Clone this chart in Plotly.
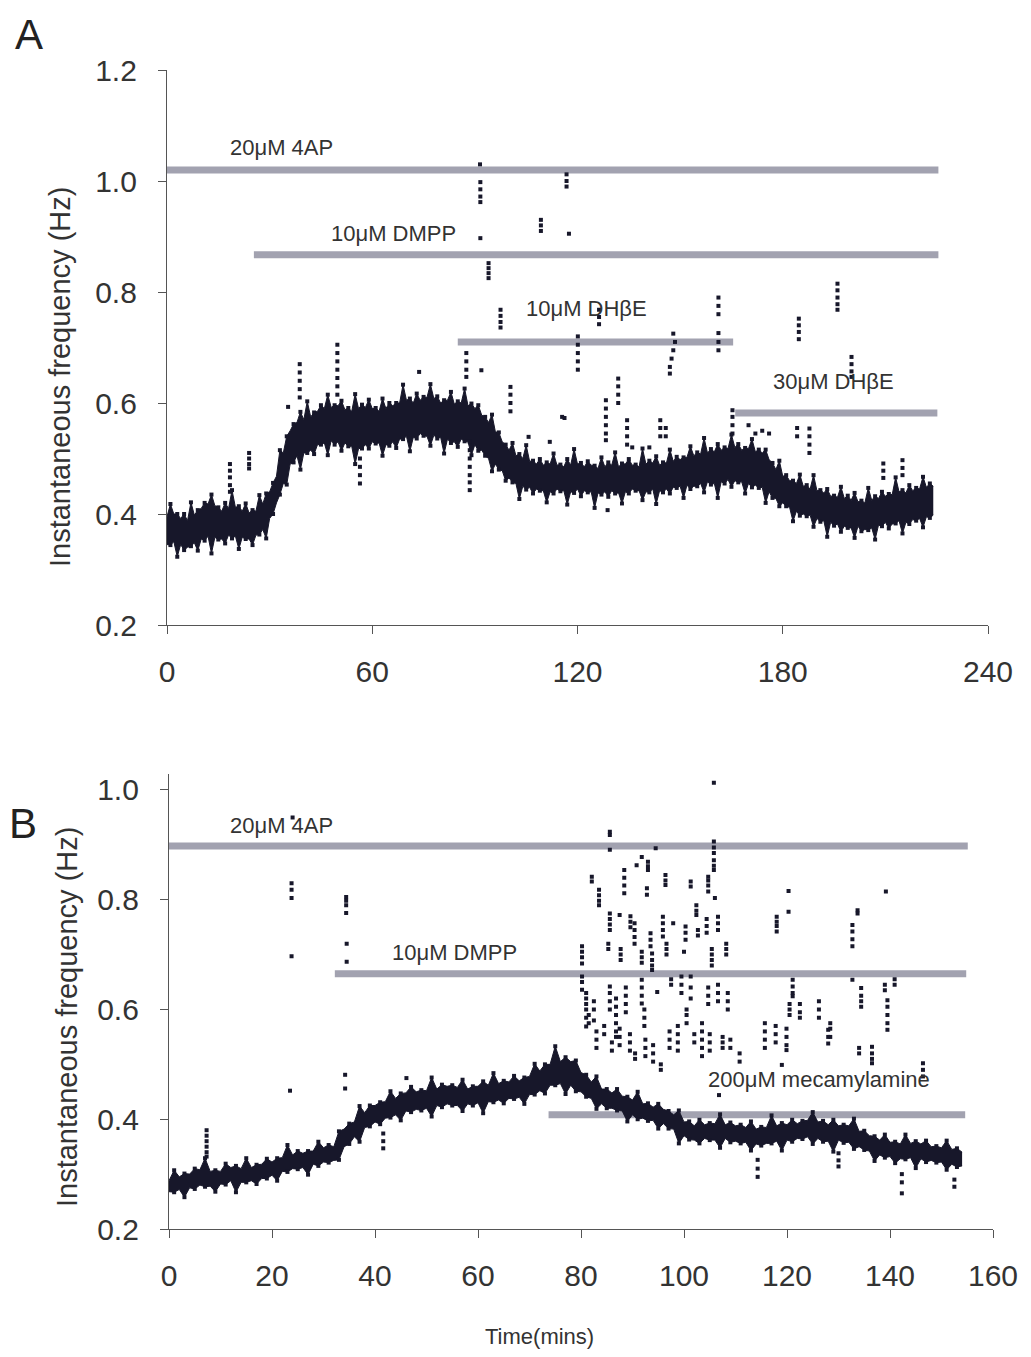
import plotly.graph_objects as go

# ---------------- DATA ----------------
# Panel A : dense band, sampled every 2 min (core lower / upper edge)
A_t_core = list(range(0, 225, 2))
A_lo = [0.345,0.350,0.345,0.340,0.348,0.355,0.360,0.358,0.355,0.362,
        0.360,0.358,0.355,0.362,0.372,0.392,0.420,0.455,0.490,0.505,
        0.510,0.515,0.525,0.528,0.532,0.530,0.528,0.522,0.518,0.525,
        0.530,0.528,0.525,0.530,0.535,0.540,0.538,0.545,0.540,0.542,
        0.538,0.535,0.530,0.535,0.530,0.525,0.515,0.500,0.490,0.478,
        0.465,0.455,0.450,0.448,0.445,0.442,0.440,0.445,0.442,0.440,
        0.445,0.442,0.440,0.438,0.440,0.442,0.438,0.440,0.445,0.442,
        0.440,0.445,0.442,0.445,0.448,0.450,0.452,0.450,0.455,0.458,
        0.455,0.458,0.462,0.460,0.458,0.455,0.452,0.448,0.440,0.428,
        0.420,0.412,0.405,0.400,0.398,0.392,0.388,0.385,0.382,0.378,
        0.375,0.378,0.372,0.375,0.380,0.385,0.382,0.388,0.385,0.390,
        0.392,0.395,0.398]
A_hi = [0.395,0.400,0.392,0.388,0.398,0.410,0.418,0.415,0.405,0.410,
        0.412,0.405,0.402,0.405,0.418,0.440,0.468,0.510,0.550,0.565,
        0.570,0.575,0.585,0.590,0.592,0.595,0.588,0.585,0.590,0.592,
        0.590,0.585,0.590,0.595,0.600,0.605,0.600,0.605,0.610,0.608,
        0.600,0.605,0.598,0.600,0.595,0.590,0.578,0.565,0.548,0.530,
        0.515,0.505,0.500,0.495,0.490,0.488,0.490,0.488,0.485,0.488,
        0.490,0.485,0.488,0.482,0.485,0.488,0.485,0.490,0.488,0.485,
        0.490,0.492,0.488,0.492,0.495,0.498,0.502,0.505,0.508,0.510,
        0.512,0.515,0.518,0.520,0.515,0.518,0.512,0.510,0.498,0.480,
        0.468,0.460,0.455,0.450,0.445,0.442,0.438,0.432,0.430,0.428,
        0.425,0.422,0.420,0.425,0.428,0.432,0.435,0.440,0.438,0.442,
        0.445,0.448,0.450]
# Panel A : outermost dots of the band (odd minutes)
A_t_edge = list(range(1, 225, 2))
A_up = [0.418,0.400,0.400,0.421,0.407,0.420,0.435,0.412,0.420,0.443,
        0.414,0.419,0.407,0.434,0.437,0.456,0.515,0.540,0.562,0.584,
        0.603,0.583,0.596,0.615,0.596,0.604,0.591,0.616,0.597,0.606,
        0.591,0.608,0.600,0.600,0.633,0.608,0.617,0.611,0.634,0.612,
        0.605,0.620,0.603,0.626,0.599,0.596,0.575,0.579,0.547,0.525,
        0.528,0.508,0.524,0.496,0.499,0.493,0.509,0.489,0.499,0.517,
        0.492,0.495,0.487,0.502,0.493,0.511,0.491,0.499,0.489,0.518,
        0.496,0.504,0.493,0.516,0.503,0.502,0.522,0.511,0.537,0.517,
        0.526,0.520,0.543,0.526,0.519,0.535,0.516,0.516,0.492,0.496,
        0.470,0.460,0.471,0.452,0.470,0.443,0.445,0.433,0.449,0.433,
        0.438,0.424,0.447,0.432,0.440,0.436,0.466,0.443,0.452,0.447,
        0.467,0.455]
A_dn = [0.344,0.323,0.335,0.342,0.334,0.352,0.329,0.354,0.347,0.356,
        0.337,0.355,0.344,0.363,0.356,0.400,0.435,0.453,0.493,0.480,
        0.510,0.508,0.525,0.506,0.525,0.514,0.522,0.490,0.518,0.518,
        0.527,0.505,0.523,0.519,0.535,0.513,0.536,0.541,0.523,0.536,
        0.509,0.528,0.521,0.531,0.506,0.514,0.505,0.477,0.480,0.460,
        0.457,0.427,0.444,0.437,0.442,0.421,0.437,0.441,0.417,0.438,
        0.432,0.439,0.411,0.435,0.431,0.437,0.419,0.437,0.442,0.425,
        0.439,0.418,0.439,0.437,0.447,0.429,0.445,0.450,0.439,0.453,
        0.429,0.455,0.449,0.457,0.437,0.448,0.447,0.420,0.429,0.414,
        0.414,0.387,0.397,0.396,0.377,0.386,0.359,0.379,0.368,0.375,
        0.357,0.369,0.371,0.354,0.378,0.374,0.383,0.365,0.382,0.388,
        0.376,0.393]
# Panel A : isolated events (time, frequency)
A_outliers = [
    (18.4,0.490),(18.4,0.478),(18.4,0.466),(18.4,0.452),(18.4,0.440),
    (24.0,0.510),(24.0,0.500),(24.0,0.490),(24.0,0.482),(35.4,0.593),
    (38.8,0.670),(38.8,0.655),(38.8,0.640),(38.8,0.625),(38.8,0.610),
    (49.8,0.705),(49.8,0.690),(49.8,0.675),(49.8,0.660),(49.8,0.645),(49.8,0.630),(49.8,0.615),
    (56.4,0.500),(56.4,0.485),(56.4,0.470),(56.4,0.455),(73.7,0.656),
    (87.5,0.690),(87.5,0.675),(87.5,0.660),(87.5,0.647),
    (88.5,0.530),(88.5,0.515),(88.5,0.500),(88.5,0.485),(88.5,0.470),(88.5,0.457),(88.5,0.443),
    (91.9,0.659),(91.5,1.030),(91.6,0.998),(91.6,0.985),(91.6,0.972),(91.6,0.962),(91.6,0.897),
    (94.0,0.852),(94.0,0.843),(94.0,0.834),(94.0,0.825),
    (97.5,0.768),(97.5,0.757),(97.5,0.746),(97.5,0.736),
    (109.3,0.930),(109.3,0.920),(109.3,0.910),
    (116.8,1.012),(116.8,1.000),(116.8,0.990),(117.5,0.905),
    (126.3,0.768),(126.3,0.755),(126.3,0.742),
    (120.1,0.720),(120.1,0.705),(120.1,0.690),(120.1,0.675),(120.1,0.660),
    (148.0,0.725),(148.5,0.710),(148.0,0.695),(147.5,0.680),(147.0,0.665),(147.0,0.653),
    (161.2,0.790),(161.2,0.775),(161.2,0.760),(161.2,0.726),(161.2,0.710),(161.2,0.695),
    (184.7,0.752),(184.7,0.740),(184.7,0.728),(184.7,0.715),
    (196.0,0.815),(196.0,0.803),(196.0,0.790),(196.0,0.778),(196.0,0.768),
    (200.1,0.683),(200.1,0.670),(200.1,0.657),(200.1,0.647),
    (100.4,0.629),(100.4,0.615),(100.4,0.600),(100.4,0.585),
    (115.5,0.575),(116.2,0.573),
    (128.3,0.605),(128.3,0.590),(128.3,0.575),(128.3,0.560),(128.3,0.545),(128.3,0.533),
    (131.9,0.644),(131.9,0.630),(131.9,0.615),(131.9,0.600),
    (134.5,0.569),(134.5,0.555),(134.5,0.540),(134.5,0.525),(128.8,0.407),
    (144.2,0.569),(144.2,0.555),(144.2,0.540),(145.8,0.555),(145.8,0.540),
    (165.3,0.587),(165.3,0.575),(165.3,0.560),(165.3,0.545),
    (184.2,0.555),(184.2,0.540),
    (187.8,0.554),(187.8,0.540),(187.8,0.525),(187.8,0.510),
    (209.4,0.491),(209.4,0.478),(209.4,0.465),
    (215.0,0.497),(215.0,0.483),(215.0,0.470),
    (170.0,0.560),(172.0,0.545),(174.0,0.550),(176.0,0.545),
    (105.7,0.539),(111.9,0.530),(136.0,0.520),(141.0,0.520),
]
# Panel A : drug application bars
A_bar_names = ["20μM 4AP", "10μM DMPP", "10μM DHβE", "30μM DHβE"]
A_bar_start = [0.0, 25.4, 85.0, 166.1]
A_bar_end = [225.5, 225.5, 165.5, 225.2]
A_bar_level = [1.020, 0.867, 0.710, 0.582]
A_xticks = [0, 60, 120, 180, 240]
A_yticks = [0.2, 0.4, 0.6, 0.8, 1.0, 1.2]

# Panel B : dense band, sampled every 2 min
B_t_core = list(range(0, 155, 2))
B_lo = [0.268,0.272,0.275,0.280,0.278,0.282,0.288,0.285,0.288,0.292,
        0.298,0.305,0.310,0.312,0.318,0.322,0.325,0.350,0.368,0.385,
        0.395,0.402,0.408,0.415,0.418,0.420,0.425,0.428,0.425,0.428,
        0.430,0.432,0.435,0.438,0.440,0.445,0.452,0.462,0.465,0.462,
        0.450,0.438,0.428,0.420,0.415,0.408,0.402,0.398,0.392,0.382,
        0.370,0.362,0.365,0.362,0.365,0.360,0.358,0.355,0.356,0.360,
        0.362,0.365,0.368,0.365,0.360,0.362,0.358,0.350,0.342,0.335,
        0.332,0.328,0.330,0.328,0.325,0.322,0.318,0.315]
B_hi = [0.288,0.295,0.300,0.308,0.305,0.305,0.312,0.310,0.312,0.318,
        0.322,0.330,0.335,0.338,0.342,0.348,0.350,0.382,0.395,0.412,
        0.425,0.432,0.438,0.448,0.450,0.452,0.455,0.460,0.458,0.455,
        0.460,0.462,0.465,0.468,0.470,0.478,0.488,0.500,0.505,0.505,
        0.485,0.468,0.455,0.448,0.442,0.435,0.428,0.422,0.418,0.408,
        0.395,0.388,0.390,0.392,0.390,0.388,0.385,0.382,0.385,0.388,
        0.390,0.392,0.398,0.395,0.390,0.388,0.388,0.378,0.370,0.362,
        0.358,0.355,0.356,0.355,0.350,0.348,0.345,0.340]
B_t_edge = list(range(1, 155, 2))
B_up = [0.307,0.301,0.310,0.329,0.307,0.319,0.315,0.329,0.317,0.328,
        0.329,0.353,0.342,0.342,0.359,0.353,0.378,0.392,0.424,0.425,
        0.431,0.451,0.447,0.459,0.453,0.476,0.463,0.462,0.472,0.460,
        0.469,0.484,0.470,0.479,0.476,0.501,0.500,0.533,0.513,0.507,
        0.481,0.478,0.455,0.455,0.441,0.450,0.429,0.428,0.415,0.416,
        0.396,0.399,0.393,0.409,0.394,0.390,0.396,0.386,0.407,0.393,
        0.399,0.397,0.413,0.397,0.399,0.390,0.401,0.379,0.369,0.372,
        0.359,0.372,0.360,0.361,0.351,0.361,0.347]
B_dn = [0.267,0.258,0.273,0.277,0.268,0.281,0.267,0.285,0.282,0.292,
        0.288,0.304,0.309,0.299,0.315,0.321,0.326,0.355,0.359,0.387,
        0.391,0.403,0.398,0.413,0.416,0.405,0.422,0.425,0.415,0.425,
        0.411,0.431,0.429,0.437,0.428,0.445,0.447,0.462,0.446,0.451,
        0.441,0.419,0.420,0.416,0.396,0.400,0.397,0.383,0.383,0.356,
        0.363,0.356,0.362,0.348,0.358,0.356,0.343,0.352,0.356,0.343,
        0.359,0.364,0.355,0.359,0.341,0.357,0.346,0.344,0.324,0.330,
        0.320,0.327,0.311,0.322,0.321,0.308,0.313]
B_outliers = [
    (7.3,0.380),(7.3,0.370),(7.3,0.360),(7.3,0.350),(7.3,0.340),(7.3,0.332),
    (23.5,0.452),(34.2,0.481),(34.2,0.456),(46.1,0.475),
    (23.8,0.830),(23.8,0.818),(23.8,0.803),(23.8,0.697),(24.0,0.950),
    (34.4,0.805),(34.4,0.798),(34.4,0.790),(34.4,0.776),(34.5,0.720),(34.5,0.687),
    (41.6,0.374),(41.6,0.360),(41.6,0.347),
    (114.3,0.326),(114.3,0.310),(114.3,0.295),
    (130.0,0.338),(130.0,0.325),(130.0,0.314),
    (142.3,0.300),(142.3,0.285),(142.3,0.265),(152.5,0.290),(152.5,0.277),
    (85.6,0.924),(85.6,0.918),(85.6,0.891),
    (105.8,1.013),(105.8,0.906),(105.8,0.895),(105.8,0.885),(105.8,0.872),(105.8,0.862),(105.8,0.854),
    (94.5,0.894),(91.8,0.878),(90.8,0.863),(93.0,0.869),(93.0,0.861),(93.0,0.854),
    (92.8,0.821),(92.8,0.809),
    (88.4,0.854),(88.4,0.840),(88.4,0.826),(88.4,0.812),
    (82.1,0.842),(82.1,0.833),
    (83.5,0.818),(83.5,0.808),(83.5,0.798),(83.5,0.790),
    (96.4,0.845),(96.4,0.835),(96.4,0.827),(101.3,0.833),(101.3,0.824),
    (104.7,0.842),(104.7,0.835),(104.7,0.826),(104.7,0.815),
    (102.4,0.790),(102.4,0.780),(102.4,0.772),(106.0,0.803),
    (85.6,0.775),(85.6,0.765),(85.6,0.755),(85.6,0.745),(87.5,0.772),
    (89.6,0.770),(89.6,0.760),(89.6,0.750),
    (90.4,0.757),(90.4,0.745),(90.4,0.732),(90.4,0.720),
    (93.5,0.739),(93.5,0.727),(93.5,0.715),
    (95.9,0.769),(95.9,0.757),(95.9,0.745),(95.9,0.733),(97.9,0.757),
    (100.3,0.751),(100.3,0.740),(100.3,0.727),(102.7,0.745),(102.7,0.735),
    (104.4,0.765),(104.4,0.752),(104.4,0.740),
    (106.6,0.769),(106.6,0.757),(106.6,0.745),
    (80.2,0.715),(80.2,0.705),(80.2,0.695),(80.2,0.684),
    (85.3,0.720),(85.3,0.710),(87.7,0.710),(87.7,0.700),(87.7,0.690),
    (91.8,0.705),(91.8,0.695),(91.8,0.685),
    (93.8,0.702),(93.8,0.690),(93.8,0.680),(93.8,0.672),
    (96.6,0.720),(96.6,0.710),(96.6,0.700),(100.0,0.705),
    (105.4,0.710),(105.4,0.700),(105.4,0.690),(105.4,0.680),
    (108.2,0.720),(108.2,0.710),(108.2,0.700),
    (118.0,0.769),(118.0,0.760),(118.0,0.752),(118.0,0.742),
    (120.3,0.816),(120.3,0.778),(133.7,0.781),(133.7,0.775),
    (132.7,0.754),(132.7,0.742),(132.7,0.728),(132.7,0.715),(139.2,0.815),
    (80.2,0.660),(80.2,0.650),(80.2,0.636),
    (81.0,0.630),(81.0,0.620),(81.0,0.610),(81.0,0.600),(81.0,0.585),(81.0,0.569),
    (82.5,0.615),(82.5,0.600),(82.5,0.580),
    (85.6,0.642),(85.6,0.630),(85.6,0.615),(85.6,0.600),
    (86.8,0.620),(86.8,0.605),(86.8,0.590),(86.8,0.575),(86.8,0.560),(86.8,0.550),
    (88.7,0.640),(88.7,0.625),(88.7,0.610),(88.7,0.595),
    (91.8,0.654),(91.8,0.640),(91.8,0.625),(91.8,0.611),
    (92.3,0.600),(92.3,0.585),(92.3,0.570),(94.8,0.632),
    (97.5,0.655),(97.5,0.645),(99.5,0.660),(99.5,0.645),(99.5,0.630),
    (101.3,0.660),(101.3,0.640),(101.3,0.620),
    (104.7,0.640),(104.7,0.625),(104.7,0.610),
    (106.6,0.645),(106.6,0.630),(106.6,0.615),
    (108.5,0.630),(108.5,0.615),(108.5,0.600),
    (121.1,0.654),(121.1,0.642),(121.1,0.630),(121.1,0.624),
    (120.5,0.610),(120.5,0.600),(120.5,0.590),
    (122.5,0.610),(122.5,0.595),(122.5,0.585),
    (126.2,0.615),(126.2,0.600),(126.2,0.585),
    (128.4,0.575),(128.4,0.565),(128.4,0.550),(132.7,0.654),
    (134.4,0.639),(134.4,0.625),(134.4,0.615),(134.4,0.605),
    (139.5,0.617),(139.5,0.605),(139.5,0.590),(139.5,0.575),(139.5,0.563),
    (139.0,0.645),(139.0,0.635),(140.9,0.655),(140.9,0.645),
    (115.7,0.575),(115.7,0.560),(115.7,0.545),(115.7,0.530),
    (117.8,0.570),(117.8,0.555),(117.8,0.540),
    (119.9,0.565),(119.9,0.550),(119.9,0.535),(119.9,0.526),
    (81.5,0.590),(81.5,0.575),(83.0,0.560),(83.0,0.545),(83.0,0.530),
    (84.5,0.570),(84.5,0.555),(86.0,0.540),(86.0,0.525),
    (87.5,0.565),(87.5,0.550),(87.5,0.535),
    (89.5,0.555),(89.5,0.540),(89.5,0.525),(90.5,0.520),(90.5,0.510),
    (92.5,0.545),(92.5,0.530),(92.5,0.515),
    (94.0,0.535),(94.0,0.520),(94.0,0.505),(95.5,0.500),(95.5,0.490),
    (97.2,0.560),(97.2,0.545),(97.2,0.530),
    (98.8,0.570),(98.8,0.555),(98.8,0.540),(98.8,0.525),
    (100.5,0.600),(100.5,0.590),(100.5,0.575),(102.0,0.555),(102.0,0.540),
    (103.5,0.575),(103.5,0.560),(103.5,0.545),(103.5,0.530),(103.5,0.515),
    (105.0,0.555),(105.0,0.540),(105.0,0.525),
    (107.5,0.550),(107.5,0.540),(107.5,0.530),(109.0,0.545),(109.0,0.530),
    (110.8,0.520),(110.8,0.505),
    (128.0,0.563),(128.0,0.550),(128.0,0.538),(134.0,0.530),(134.0,0.520),
    (136.5,0.532),(136.5,0.520),(136.5,0.510),(136.5,0.502),
    (146.4,0.502),(146.4,0.490),(146.4,0.478),(106.8,0.444),(119.0,0.499),
]
B_bar_names = ["20μM 4AP", "10μM DMPP", "200μM mecamylamine"]
B_bar_start = [0.0, 32.2, 73.7]
B_bar_end = [155.1, 154.8, 154.6]
B_bar_level = [0.898, 0.665, 0.408]
B_xticks = [0, 20, 40, 60, 80, 100, 120, 140, 160]
B_yticks = [0.2, 0.4, 0.6, 0.8, 1.0]

# ---------------- STYLE ----------------
# the page body has an 8 px margin: the figure is placed at (8, 8) in the window
OFF = 8
W, H = 1015, 1341
DOT = '#17172a'
BAR = '#a2a2b0'
TXT = '#333333'
AX = '#555555'
FONT = 'Liberation Sans, Arial, Helvetica, sans-serif'


def X(px):
    return (px - OFF) / W


def Y(py):
    return 1 - (py - OFF) / H


fig = go.Figure()


def envelope(t1, v1, t2, v2):
    """Order the read points of one band edge by time."""
    pts = sorted(zip(t1 + t2, v1 + v2))
    return [p[0] for p in pts], [p[1] for p in pts]


def add_panel(xa, ya, t_core, lo, hi, t_edge, up, dn, outliers, bstart, bend, blevel):
    # drug bars (under the dots)
    for s, e, lv in zip(bstart, bend, blevel):
        fig.add_trace(go.Scatter(x=[s, e], y=[lv, lv], mode='lines',
                                 line=dict(color=BAR, width=7),
                                 xaxis=xa, yaxis=ya, hoverinfo='skip'))
    # dense band with ragged edges
    lt, lv = envelope(t_core, lo, t_edge, dn)
    ut, uv = envelope(t_core, hi, t_edge, up)
    fig.add_trace(go.Scatter(x=lt, y=lv, mode='lines',
                             line=dict(color=DOT, width=1),
                             xaxis=xa, yaxis=ya, hoverinfo='skip'))
    fig.add_trace(go.Scatter(x=ut, y=uv, mode='lines', fill='tonexty',
                             fillcolor=DOT, line=dict(color=DOT, width=1),
                             xaxis=xa, yaxis=ya, hoverinfo='skip'))
    mk = dict(color=DOT, size=4, symbol='square')
    fig.add_trace(go.Scatter(x=t_edge + t_edge, y=up + dn, mode='markers', marker=mk,
                             xaxis=xa, yaxis=ya, hoverinfo='skip'))
    # isolated events
    fig.add_trace(go.Scatter(x=[p[0] for p in outliers], y=[p[1] for p in outliers],
                             mode='markers', marker=mk,
                             xaxis=xa, yaxis=ya, hoverinfo='skip'))


add_panel('x', 'y', A_t_core, A_lo, A_hi, A_t_edge, A_up, A_dn, A_outliers,
          A_bar_start, A_bar_end, A_bar_level)
add_panel('x2', 'y2', B_t_core, B_lo, B_hi, B_t_edge, B_up, B_dn, B_outliers,
          B_bar_start, B_bar_end, B_bar_level)

axis_common = dict(showline=True, linecolor=AX, linewidth=1.2, ticks='outside',
                   ticklen=8, tickwidth=1.2, tickcolor=AX, showgrid=False,
                   zeroline=False, automargin=False,
                   tickfont=dict(family=FONT, size=30, color=TXT))

fig.update_layout(
    template='none',
    width=W, height=H, margin=dict(l=0, r=0, t=0, b=0, pad=0, autoexpand=False),
    paper_bgcolor='white', plot_bgcolor='white', showlegend=False,
    font=dict(family=FONT, color=TXT),
    xaxis=dict(domain=[X(167), X(988)], range=[0, 240], tickvals=A_xticks,
               anchor='y', ticklabelstandoff=12, **axis_common),
    yaxis=dict(domain=[Y(625), Y(70)], range=[0.2, 1.2], tickvals=A_yticks,
               tickformat='.1f', anchor='x', ticklabelstandoff=15, **axis_common),
    xaxis2=dict(domain=[X(169), X(993)], range=[0, 160], tickvals=B_xticks,
                anchor='y2', ticklabelstandoff=12, **axis_common),
    yaxis2=dict(domain=[Y(1229), Y(773.5)], range=[0.2, 1.03], tickvals=B_yticks,
                tickformat='.1f', anchor='x2', ticklabelstandoff=15, **axis_common),
)

ann = []
# drug labels (data coordinates)
A_label_pos = [(33.5, 1.06), (66.1, 0.906), (122.7, 0.771), (194.7, 0.638)]
B_label_pos = [(21.9, 0.936), (55.4, 0.703), (126.2, 0.473)]
for name, (tx, ty) in zip(A_bar_names, A_label_pos):
    ann.append(dict(x=tx, y=ty, xref='x', yref='y', text=name, showarrow=False,
                    xanchor='center', yanchor='middle',
                    font=dict(family=FONT, size=22, color=TXT)))
for name, (tx, ty) in zip(B_bar_names, B_label_pos):
    ann.append(dict(x=tx, y=ty, xref='x2', yref='y2', text=name, showarrow=False,
                    xanchor='center', yanchor='middle',
                    font=dict(family=FONT, size=22, color=TXT)))
# axis titles & panel letters
pc = dict(xref='paper', yref='paper', showarrow=False, xanchor='center', yanchor='middle')
ann += [
    dict(x=X(60), y=Y(377), text='Instantaneous frequency (Hz)', textangle=-90,
         font=dict(family=FONT, size=29, color=TXT), **pc),
    dict(x=X(67), y=Y(1017), text='Instantaneous frequency (Hz)', textangle=-90,
         font=dict(family=FONT, size=29, color=TXT), **pc),
    dict(x=X(539), y=Y(1336), text='Time(mins)',
         font=dict(family=FONT, size=22, color=TXT), **pc),
    dict(x=X(29), y=Y(35), text='A', font=dict(family=FONT, size=42, color='#222222'), **pc),
    dict(x=X(23), y=Y(823), text='B', font=dict(family=FONT, size=42, color='#222222'), **pc),
]
fig.update_layout(annotations=ann)

fig.write_html("out.html")
